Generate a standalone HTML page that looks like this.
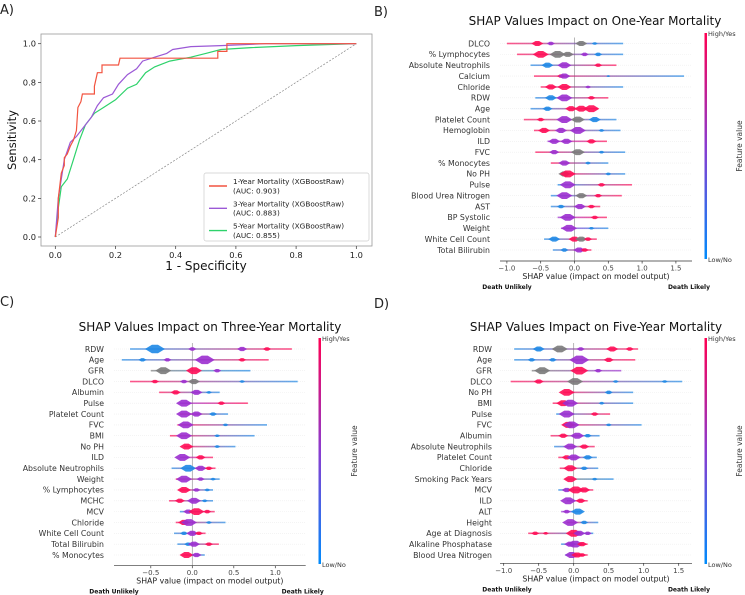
<!DOCTYPE html>
<html><head><meta charset="utf-8"><style>
html,body{margin:0;padding:0;background:#fff}
svg{display:block;font-family:"DejaVu Sans","Liberation Sans",sans-serif}
</style></head><body>
<svg id="fig" width="745" height="595" viewBox="0 0 745 595" xmlns="http://www.w3.org/2000/svg">
<defs>
<linearGradient id="cbar" x1="0" y1="0" x2="0" y2="1"><stop offset="0" stop-color="#ff0052"/><stop offset="0.5" stop-color="#8a3cd0"/><stop offset="1" stop-color="#008bfb"/></linearGradient>
</defs>
</svg>
<script>
// ---------- ROC data ----------
const rocRedX=[0,0.01,0.01,0.02,0.03,0.03,0.04,0.05,0.06,0.07,0.075,0.085,0.09,0.13,0.13,0.14,0.155,0.155,0.21,0.215,0.54,0.54,0.57,0.57,1];
const rocRedY=[0,0.1,0.2,0.33,0.37,0.41,0.43,0.47,0.5,0.55,0.67,0.7,0.74,0.74,0.78,0.85,0.85,0.89,0.89,0.925,0.925,0.96,0.96,1.0,1];
const rocPurX=[0,0.01,0.02,0.03,0.05,0.07,0.1,0.12,0.14,0.16,0.19,0.21,0.24,0.27,0.29,0.33,0.37,0.39,0.45,0.55,0.7,1];
const rocPurY=[0,0.2,0.3,0.4,0.49,0.52,0.58,0.62,0.68,0.72,0.74,0.79,0.84,0.87,0.91,0.93,0.95,0.97,0.985,0.99,1,1];
const rocGrnX=[0,0.01,0.02,0.04,0.06,0.08,0.1,0.13,0.16,0.2,0.24,0.27,0.3,0.33,0.38,0.45,0.5,0.55,0.65,0.8,1];
const rocGrnY=[0,0.15,0.26,0.3,0.4,0.5,0.58,0.64,0.67,0.71,0.77,0.79,0.85,0.88,0.91,0.93,0.95,0.97,0.98,0.99,1];
const rocTicks=[0,0.2,0.4,0.6,0.8,1.0];
const rocTickLabels=["0.0","0.2","0.4","0.6","0.8","1.0"];
const rocLegend=[["1-Year Mortality (XGBoostRaw)","(AUC: 0.903)"],["3-Year Mortality (XGBoostRaw)","(AUC: 0.883)"],["5-Year Mortality (XGBoostRaw)","(AUC: 0.855)"]];

// ---------- SHAP data ----------
const shapBNames=["DLCO","% Lymphocytes","Absolute Neutrophils","Calcium","Chloride","RDW","Age","Platelet Count","Hemoglobin","ILD","FVC","% Monocytes","No PH","Pulse","Blood Urea Nitrogen","AST","BP Systolic","Weight","White Cell Count","Total Bilirubin"];
const shapBLo=[-1.0,-0.85,-0.65,-0.6,-0.5,-0.58,-0.65,-0.75,-0.6,-0.4,-0.58,-0.35,-0.15,-0.25,-0.35,-0.35,-0.25,-0.2,-0.45,-0.32];
const shapBHi=[0.72,0.72,0.62,1.62,0.72,0.5,0.35,0.62,0.68,0.48,0.75,0.5,0.75,0.85,0.7,0.38,0.48,0.5,0.33,0.25];
const shapBEnds=["rb","rb","br","rb","rb","br","br","rb","rb","pr","rb","rb","rb","br","br","br","pr","pb","br","br"];
const shapBBlobs=[
[[-0.55,3,'r'],[-0.35,2,'p'],[0.1,3,'g'],[0.3,1.5,'b']],
[[-0.5,4,'r'],[-0.25,4,'g'],[-0.1,3,'g'],[0.15,2,'p'],[0.35,2,'b']],
[[-0.4,3,'b'],[-0.15,3.5,'p'],[0.35,2,'r']],
[[-0.2,2,'r'],[-0.15,3,'p'],[0.5,1,'b']],
[[-0.35,3,'r'],[-0.15,3.5,'r'],[0.2,1.5,'p']],
[[-0.35,3,'b'],[-0.15,4,'p'],[0.25,2,'r']],
[[-0.4,2.5,'b'],[-0.05,3,'r'],[0.1,3.5,'r'],[0.25,4,'r']],
[[-0.5,2,'r'],[-0.15,4,'p'],[0.05,3.5,'g'],[0.3,3,'b']],
[[-0.45,3,'r'],[-0.2,3,'p'],[0.05,4,'p'],[0.4,1.5,'b']],
[[-0.3,3,'p'],[-0.12,3,'p'],[0.25,2.5,'r']],
[[-0.3,2.5,'p'],[0.05,3.5,'g'],[0.4,1.5,'b']],
[[-0.15,3,'p'],[0.2,1.5,'b']],
[[-0.15,3,'g'],[-0.1,4,'r'],[0.5,1.5,'b']],
[[-0.1,4,'p'],[0.4,2,'r']],
[[-0.15,4,'p'],[0.1,3,'g'],[0.35,2,'r']],
[[-0.2,2,'b'],[0.08,3,'p'],[0.25,2,'r']],
[[-0.1,4,'p'],[0.3,2,'r']],
[[-0.08,4,'p'],[0.25,1.5,'b']],
[[-0.3,3,'b'],[0.0,3,'r'],[0.1,3,'g'],[0.2,2,'r']],
[[-0.15,2,'b'],[0.07,3,'p'],[0.15,2,'r']]];
const shapBTicks=[-1.0,-0.5,0.0,0.5,1.0,1.5];

const shapCNames=["RDW","Age","GFR","DLCO","Albumin","Pulse","Platelet Count","FVC","BMI","No PH","ILD","Absolute Neutrophils","Weight","% Lymphocytes","MCHC","MCV","Chloride","White Cell Count","Total Bilirubin","% Monocytes"];
const shapCLo=[-0.75,-0.85,-0.5,-0.75,-0.4,-0.15,-0.15,-0.18,-0.27,-0.1,-0.15,-0.25,-0.2,-0.15,-0.28,-0.15,-0.2,-0.22,-0.18,-0.12];
const shapCHi=[1.2,0.92,0.7,1.27,0.33,0.67,0.43,0.9,0.75,0.52,0.25,0.28,0.33,0.25,0.25,0.27,0.4,0.16,0.32,0.15];
const shapCEnds=["br","br","gb","rb","rb","pr","rb","rb","rb","rb","pr","br","rb","rb","rb","br","rb","br","br","rb"];
const shapCBlobs=[
[[-0.45,5,'b'],[0.0,2,'p'],[0.6,2.5,'p'],[0.9,2,'r']],
[[-0.6,2,'b'],[-0.3,2,'p'],[0.15,5,'p'],[0.6,2,'r']],
[[-0.35,4,'g'],[0.02,4,'r'],[0.3,2,'p']],
[[-0.45,2,'r'],[-0.1,2,'p'],[0.02,3,'g'],[0.6,1.5,'b']],
[[-0.2,2.5,'r'],[0.05,3,'p'],[0.2,1.5,'b']],
[[-0.1,4,'p'],[0.35,2,'r']],
[[-0.1,4,'p'],[0.05,3,'p'],[0.25,2,'b']],
[[-0.08,4,'p'],[0.4,1.5,'b']],
[[-0.1,4,'p'],[0.3,1.5,'b']],
[[-0.07,3.5,'r'],[0.3,1.5,'b']],
[[-0.12,4,'p'],[0.1,2.5,'r']],
[[-0.05,4,'b'],[0.1,3,'p'],[0.2,2,'r']],
[[-0.1,4,'p'],[0.1,2,'p'],[0.25,1.5,'b']],
[[-0.1,3.5,'r'],[0.05,2,'p'],[0.18,1.5,'b']],
[[-0.15,2.5,'r'],[0.02,3.5,'p'],[0.15,1.5,'b']],
[[-0.05,2.5,'p'],[0.05,4,'r'],[0.18,2,'r']],
[[-0.1,3,'r'],[-0.04,4,'p'],[0.2,1.5,'b']],
[[-0.1,2,'b'],[0.0,3,'p'],[0.08,2,'r']],
[[-0.05,2,'b'],[0.02,3,'p'],[0.2,2,'r']],
[[-0.07,3.5,'r'],[0.05,2.5,'p']]];
const shapCTicks=[-0.5,0.0,0.5,1.0];

const shapDNames=["RDW","Age","GFR","DLCO","No PH","BMI","Pulse","FVC","Albumin","Absolute Neutrophils","Platelet Count","Chloride","Smoking Pack Years","MCV","ILD","ALT","Height","Age at Diagnosis","Alkaline Phosphatase","Blood Urea Nitrogen"];
const shapDLo=[-0.85,-0.85,-0.6,-0.9,-0.15,-0.3,-0.25,-0.15,-0.33,-0.28,-0.22,-0.2,-0.12,-0.22,-0.1,-0.18,-0.1,-0.65,-0.18,-0.12];
const shapDHi=[0.92,0.88,0.68,1.55,0.85,0.85,0.52,0.97,0.37,0.3,0.33,0.35,0.57,0.28,0.2,0.12,0.35,0.28,0.2,0.2];
const shapDEnds=["br","br","gp","rb","rb","rb","br","rb","rb","br","rb","rb","gb","br","pr","pb","rb","rb","br","br"];
const shapDBlobs=[
[[-0.5,3,'b'],[-0.2,4,'g'],[0.1,2,'p'],[0.55,3,'r'],[0.8,2,'r']],
[[-0.6,2,'b'],[-0.3,2,'b'],[0.08,5,'p'],[0.5,2.5,'r']],
[[-0.45,4,'g'],[0.08,4.5,'r'],[0.35,2,'p']],
[[-0.5,2.5,'r'],[0.02,4,'g'],[0.6,1.5,'b'],[1.3,1.5,'b']],
[[-0.1,4,'r'],[0.5,2,'b']],
[[-0.15,3.5,'r'],[-0.05,4,'p'],[0.4,1.5,'b']],
[[-0.1,4,'p'],[0.3,2,'r']],
[[-0.08,3.5,'r'],[-0.03,4,'p'],[0.5,1.5,'b']],
[[-0.15,2.5,'r'],[0.05,3.5,'p'],[0.2,2,'b']],
[[-0.05,3.5,'p'],[0.15,2.5,'r']],
[[-0.1,2.5,'r'],[0.0,3.5,'p'],[0.2,2.5,'b']],
[[-0.05,3.5,'r'],[0.15,2,'b']],
[[-0.05,3.5,'r'],[0.3,1.5,'b']],
[[-0.1,2.5,'p'],[0.03,4,'r'],[0.15,3,'r']],
[[-0.08,4,'p'],[0.1,2.5,'r']],
[[-0.1,2,'p'],[0.06,3.5,'b']],
[[-0.05,4,'p'],[0.15,2,'b']],
[[-0.55,2,'r'],[-0.4,1.5,'r'],[0.0,4,'r'],[0.08,3,'p'],[0.2,2,'p']],
[[-0.05,3,'p'],[0.02,4,'p'],[0.12,2.5,'r']],
[[-0.03,3.5,'p'],[0.05,3,'r'],[0.12,2,'r']]];
const shapDTicks=[-1.0,-0.5,0.0,0.5,1.0,1.5];

const COL={r:'#ff0d57',p:'#9b2fcf',b:'#1e88e5',g:'#7a7a7a'};
const NS='http://www.w3.org/2000/svg';
const svg=document.getElementById('fig');
function mk(tag,attrs,parent,text){const e=document.createElementNS(NS,tag);for(const k in attrs)e.setAttribute(k,attrs[k]);if(text!==undefined)e.textContent=text;(parent||svg).appendChild(e);return e;}
function fmt(v){return (v<0?'\u2212':'')+Math.abs(v).toFixed(1);}

const pl=[["A)",0,14],["B)",374,16],["C)",0,306],["D)",374,308]];
pl.forEach(p=>{const t=mk('text',{x:p[1],y:p[2],'font-size':13,fill:'#222'},svg,p[0]);

});

// ---------- ROC ----------
(function(){
const g=mk('g',{});


const x0=55.3,x1=356.3,y0=237,y1=43.7;
const sx=v=>x0+(x1-x0)*v, sy=v=>y0+(y1-y0)*v;
const fr=mk('rect',{x:41,y:34,width:331,height:212,fill:'none',stroke:'#999','stroke-width':0.8},g);


rocTicks.forEach((t,i)=>{
 mk('line',{x1:sx(t),x2:sx(t),y1:246,y2:249,stroke:'#333','stroke-width':0.7},g);
 const tx=mk('text',{x:sx(t),y:258,'font-size':8.3,'text-anchor':'middle',fill:'#222'},g,rocTickLabels[i]);
 
 
 mk('line',{x1:38,x2:41,y1:sy(t),y2:sy(t),stroke:'#333','stroke-width':0.7},g);
 const ty=mk('text',{x:36,y:sy(t)+3,'font-size':8.3,'text-anchor':'end',fill:'#222'},g,rocTickLabels[i]);
 
 
});
const xl=mk('text',{x:206,y:270,'font-size':12,'text-anchor':'middle',fill:'#111'},g,'1 - Specificity');


const yl=mk('text',{x:0,y:0,'font-size':11.5,'text-anchor':'middle',fill:'#111',transform:'translate(16,140) rotate(-90)'},g,'Sensitivity');


const dg=mk('line',{x1:sx(0),y1:sy(0),x2:sx(1),y2:sy(1),stroke:'#888','stroke-width':0.7,'stroke-dasharray':'2,1.5'},g);


const series=[[rocGrnX,rocGrnY,'#2ed26b','roc-5-year'],[rocPurX,rocPurY,'#9b59d6','roc-3-year'],[rocRedX,rocRedY,'#f25440','roc-1-year']];
series.forEach(s=>{
 const d=s[0].map((v,i)=>(i?'L':'M')+sx(v).toFixed(1)+','+sy(s[1][i]).toFixed(1)).join('');
 const p=mk('path',{d:d,fill:'none',stroke:s[2],'stroke-width':1.2},g);
 
 
});
const lg=mk('g',{},g);


mk('rect',{x:204,y:173,width:165,height:68,fill:'#fff',stroke:'#ccc','stroke-width':0.7,rx:2},lg);
const lc=['#f25440','#9b59d6','#2ed26b'];
rocLegend.forEach((L,i)=>{
 const yy=184+i*22.3;
 const e=mk('g',{},lg);
 
 
 mk('line',{x1:209,x2:227,y1:yy+2,y2:yy+2,stroke:lc[i],'stroke-width':1.4},e);
 mk('text',{x:233,y:yy,'font-size':7.3,fill:'#222'},e,L[0]);
 mk('text',{x:233,y:yy+9.3,'font-size':7.3,fill:'#222'},e,L[1]);
});
})();

// ---------- SHAP ----------
function shap(cfg){
 const g=mk('g',{});
 
 
 const sx=v=>cfg.zx+cfg.ppu*v;
 const n=cfg.names.length, step=(cfg.yLast-cfg.yFirst)/(n-1);
 const ti=mk('text',{x:cfg.tx,y:cfg.ty,'font-size':12,'text-anchor':'middle',fill:'#111'},g,cfg.title);
 
 
 cfg.names.forEach((nm,i)=>{
  const y=cfg.yFirst+step*i;
  mk('line',{x1:cfg.ax0,x2:cfg.ax1,y1:y,y2:y,stroke:'#eee','stroke-width':0.6,'stroke-dasharray':'1,1'},g);
 });
 mk('line',{x1:sx(0),x2:sx(0),y1:cfg.yFirst-6,y2:cfg.axY,stroke:'#999','stroke-width':0.7},g);
 cfg.names.forEach((nm,i)=>{
  const y=cfg.yFirst+step*i;
  const lb=mk('text',{x:cfg.labX,y:y+2.8,'font-size':7.8,'text-anchor':'end',fill:'#333'},g,nm);
  
  
  const row=mk('g',{},g);
  
  
  const gid=cfg.name+'-g'+i;
  const lgd=mk('linearGradient',{id:gid,x1:0,y1:0,x2:1,y2:0},svg.querySelector('defs'));
  mk('stop',{offset:0,'stop-color':COL[cfg.ends[i][0]]},lgd);
  mk('stop',{offset:1,'stop-color':COL[cfg.ends[i][1]]},lgd);
  mk('rect',{x:sx(cfg.lo[i]),y:y-0.8,width:sx(cfg.hi[i])-sx(cfg.lo[i]),height:1.6,fill:'url(#'+gid+')',opacity:0.7},row);
  cfg.blobs[i].forEach(b=>{
   const cx=sx(b[0]), w=b[1]*2.0, h=b[1]*0.85;
   const bl=mk('polygon',{points:(cx-w)+','+y+' '+(cx-w*0.3)+','+(y-h)+' '+(cx+w*0.3)+','+(y-h)+' '+(cx+w)+','+y+' '+(cx+w*0.3)+','+(y+h)+' '+(cx-w*0.3)+','+(y+h),fill:COL[b[2]],opacity:0.9},row);
   
   
  });
 });
 mk('line',{x1:cfg.ax0,x2:cfg.ax1,y1:cfg.axY,y2:cfg.axY,stroke:'#333','stroke-width':0.7},g);
 cfg.ticks.forEach(t=>{
  mk('line',{x1:sx(t),x2:sx(t),y1:cfg.axY,y2:cfg.axY+2.5,stroke:'#333','stroke-width':0.7},g);
  const tl=mk('text',{x:sx(t),y:cfg.axY+9.5,'font-size':7,'text-anchor':'middle',fill:'#444'},g,fmt(t));
  
  
 });
 const xt=mk('text',{x:(cfg.ax0+cfg.ax1)/2,y:cfg.axY+18,'font-size':7.8,'text-anchor':'middle',fill:'#222'},g,'SHAP value (impact on model output)');
 
 
 const du=mk('text',{x:cfg.duX,y:cfg.axY+28,'font-size':6,'font-weight':'bold','text-anchor':'middle',fill:'#111'},g,'Death Unlikely');
 
 
 const dl=mk('text',{x:cfg.dlX,y:cfg.axY+28,'font-size':6,'font-weight':'bold','text-anchor':'middle',fill:'#111'},g,'Death Likely');
 
 
 const cb=mk('rect',{x:cfg.cbX,y:cfg.cbY0,width:2.5,height:cfg.cbY1-cfg.cbY0,fill:'url(#cbar)'},g);
 
 
 mk('text',{x:cfg.cbX+3.5,y:cfg.cbY0+3,'font-size':6.5,fill:'#333'},g,'High/Yes');
 mk('text',{x:cfg.cbX+3.5,y:cfg.cbY1+3,'font-size':6.5,fill:'#333'},g,'Low/No');
 const fv=mk('text',{x:0,y:0,'font-size':7.5,'text-anchor':'middle',fill:'#333',transform:'translate('+cfg.fvX+','+((cfg.cbY0+cfg.cbY1)/2)+') rotate(-90)'},g,'Feature value');
 
 
}
shap({name:'shap-one-year',title:'SHAP Values Impact on One-Year Mortality',tx:595,ty:25,names:shapBNames,lo:shapBLo,hi:shapBHi,ends:shapBEnds,blobs:shapBBlobs,ticks:shapBTicks,zx:574.5,ppu:67.6,yFirst:43.5,yLast:250,labX:490,ax0:500,ax1:692,axY:261,duX:507,dlX:689,cbX:704.5,cbY0:33,cbY1:259,fvX:742});
shap({name:'shap-three-year',title:'SHAP Values Impact on Three-Year Mortality',tx:210,ty:331,names:shapCNames,lo:shapCLo,hi:shapCHi,ends:shapCEnds,blobs:shapCBlobs,ticks:shapCTicks,zx:192.3,ppu:83,yFirst:349,yLast:555,labX:104,ax0:114,ax1:305.7,axY:565.7,duX:114,dlX:302.7,cbX:318.5,cbY0:338,cbY1:564,fvX:357});
shap({name:'shap-five-year',title:'SHAP Values Impact on Five-Year Mortality',tx:596,ty:331,names:shapDNames,lo:shapDLo,hi:shapDHi,ends:shapDEnds,blobs:shapDBlobs,ticks:shapDTicks,zx:573.7,ppu:70,yFirst:349,yLast:555,labX:492,ax0:500,ax1:692,axY:563.3,duX:507,dlX:689,cbX:704.5,cbY0:338,cbY1:564,fvX:742});
</script>
</body></html>
